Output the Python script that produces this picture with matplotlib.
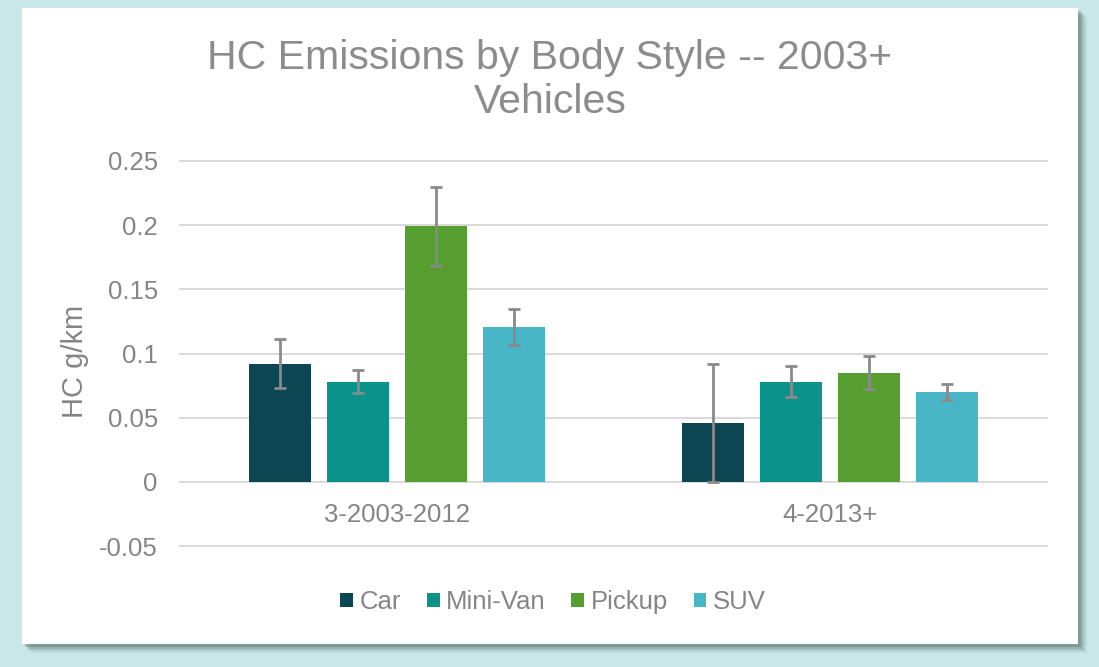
import matplotlib
matplotlib.use('Agg')
import matplotlib.pyplot as plt
from matplotlib.patches import Rectangle, Patch
import numpy as np

# data
groups = ['3-2003-2012', '4-2013+']
styles = ['Car', 'Mini-Van', 'Pickup', 'SUV']
car = [0.092, 0.046]
minivan = [0.078, 0.078]
pickup = [0.199, 0.085]
suv = [0.121, 0.070]
car_err = [0.019, 0.046]
minivan_err = [0.009, 0.012]
pickup_err = [0.031, 0.013]
suv_err = [0.014, 0.0065]

colors = ['#0b4652', '#0a938b', '#559e2f', '#48b6c6']
gray = '#8a8a8a'
plt.rcParams['font.family'] = ['Liberation Sans', 'DejaVu Sans']

W, H = 1099, 667
fig = plt.figure(figsize=(W / 100, H / 100), dpi=100)
fig.patch.set_facecolor('#c8e7e6')

# card with a soft shadow
x0, y0, x1, y1 = 22, 8, 1078, 644
for i, a in enumerate([0.10, 0.18, 0.28, 0.40]):
    off = 9 - i * 2
    fig.patches.append(Rectangle(((x0 + off) / W, 1 - (y1 + off) / H),
                                 (x1 - x0) / W, (y1 - y0) / H,
                                 transform=fig.transFigure, facecolor='#5f7876',
                                 alpha=a, edgecolor='none', zorder=0))
fig.patches.append(Rectangle((x0 / W, 1 - y1 / H), (x1 - x0) / W, (y1 - y0) / H,
                             transform=fig.transFigure, facecolor='white',
                             edgecolor='none', zorder=1))

ax = fig.add_axes([180 / W, 1 - 546 / H, (1047 - 180) / W, (546 - 161) / H])
ax.set_facecolor('none')
ax.set_zorder(5)

x = np.arange(len(groups))
slot = 0.18
width = 0.143
series = [car, minivan, pickup, suv]
errs = [car_err, minivan_err, pickup_err, suv_err]
for i, (vals, err) in enumerate(zip(series, errs)):
    pos = x + (i - 1.5) * slot
    ax.bar(pos, vals, width, color=colors[i], label=styles[i], zorder=3)
    ax.errorbar(pos, vals, yerr=err, fmt='none', ecolor=gray, elinewidth=2,
                capsize=4.5, capthick=2, zorder=4)

ax.set_xlim(-0.5, 1.5)
ax.set_ylim(-0.05, 0.25)
yt = [-0.05, 0, 0.05, 0.1, 0.15, 0.2, 0.25]
ax.set_yticks(yt)
ax.set_yticklabels(['-0.05', '0', '0.05', '0.1', '0.15', '0.2', '0.25'])
for t in yt:
    ax.axhline(t, color='#d9d9d9', lw=1.4, zorder=1, clip_on=False)
ax.tick_params(axis='y', length=0, pad=16, labelsize=18.5, labelcolor='#858585')
ax.set_xticks([])
for s in ax.spines.values():
    s.set_visible(False)

for xi, g in zip(x, groups):
    ax.annotate(g, (xi, 0), xytext=(0, -15), textcoords='offset points',
                ha='center', va='top', fontsize=18.5, color='#858585')

fig.text(75 / W, 1 - 361 / H, 'HC g/km', rotation=90, ha='center', va='center',
         fontsize=21, color='#858585', zorder=6)

fig.text(550 / W, 1 - 80 / H, 'HC Emissions by Body Style -- 2003+\nVehicles',
         ha='center', va='center', fontsize=29.5, color='#8c8c8c',
         linespacing=1.2, zorder=6)

handles = [Patch(facecolor=c, edgecolor='none') for c in colors]
leg = fig.legend(handles, styles, loc='center', bbox_to_anchor=(553 / W, 1 - 602 / H),
                 ncol=4, frameon=False, fontsize=18.5, labelcolor='#858585',
                 handlelength=0.5, handleheight=0.5, handletextpad=0.25,
                 columnspacing=1.0)
leg.set_zorder(6)

fig.savefig('out.png', dpi=100, facecolor=fig.get_facecolor())
